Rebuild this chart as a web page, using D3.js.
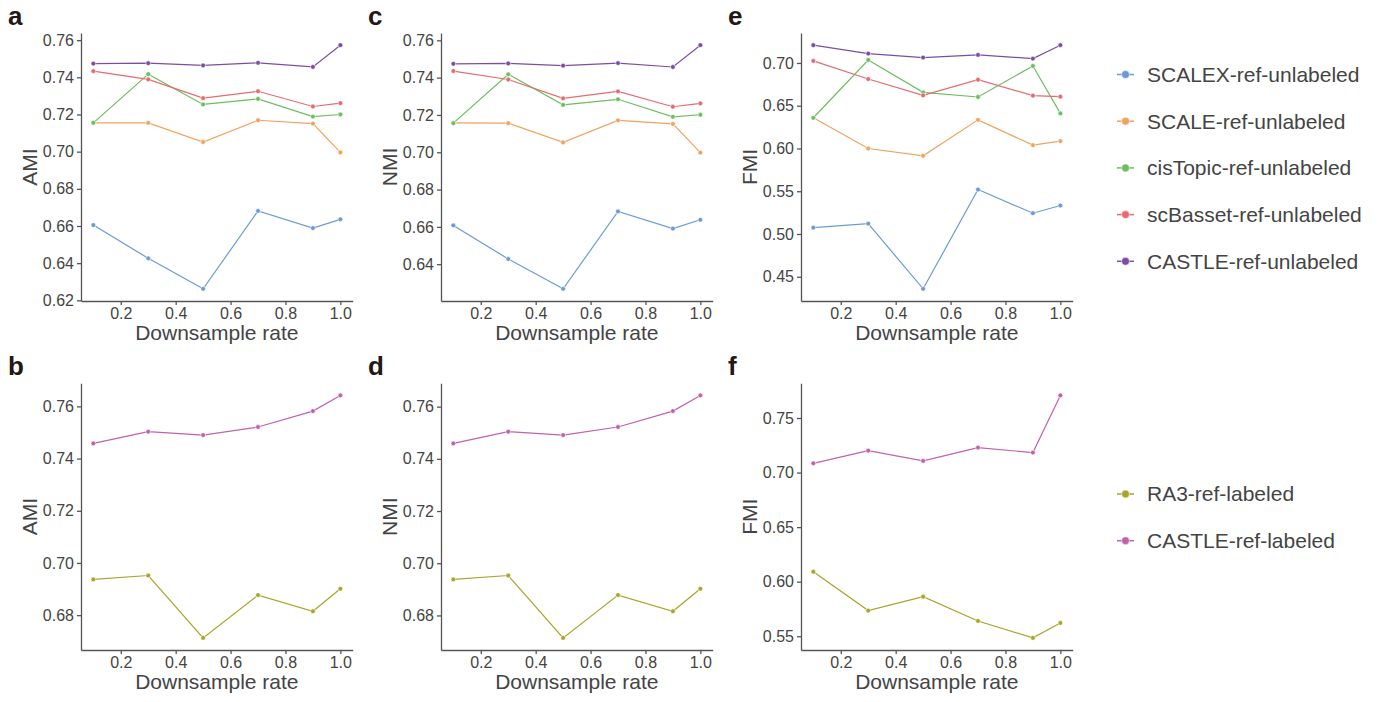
<!DOCTYPE html>
<html lang="en">
<head>
<meta charset="UTF-8">
<title>Downsample rate vs clustering metrics</title>
<style>
  body { margin: 0; background: #fff; font-family: "Liberation Sans", Arial, sans-serif; }
  .axis path, .axis line { stroke: #555; stroke-width: 1.3; }
  .axis text { fill: #444; font-size: 16px; font-family: "Liberation Sans", Arial, sans-serif; }
  .lab { fill: #444; font-size: 21px; }
  .letter { fill: #231815; font-size: 26px; font-weight: bold; }
  .leg { fill: #444; font-size: 21px; }
</style>
</head>
<body>
<script src="https://d3js.org/d3.v7.min.js"></script>
<script>
const rates = [0.1, 0.3, 0.5, 0.7, 0.9, 1.0];
const xTicks = [0.2, 0.4, 0.6, 0.8, 1.0];

const unlabeledNames = ["SCALEX-ref-unlabeled", "SCALE-ref-unlabeled", "cisTopic-ref-unlabeled", "scBasset-ref-unlabeled", "CASTLE-ref-unlabeled"];
const unlabeledColors = ["#6a9bd6", "#f0a35e", "#6cbe5f", "#e56b6f", "#7b4ea3"];
const labeledNames = ["RA3-ref-labeled", "CASTLE-ref-labeled"];
const labeledColors = ["#a7a52a", "#c062ac"];

// top row, one array per method (same order as unlabeledNames)
const amiUnlabeled = [
  [0.6605, 0.6426, 0.6262, 0.6681, 0.6589, 0.6636],
  [0.7155, 0.7155, 0.7052, 0.7169, 0.7151, 0.6996],
  [0.7155, 0.7417, 0.7254, 0.7284, 0.7189, 0.7200],
  [0.7433, 0.7389, 0.7288, 0.7325, 0.7243, 0.7261],
  [0.7474, 0.7476, 0.7464, 0.7478, 0.7456, 0.7573]
];
const nmiUnlabeled = [
  [0.6608, 0.6428, 0.6268, 0.6683, 0.6591, 0.6638],
  [0.7157, 0.7156, 0.7053, 0.7171, 0.7152, 0.6998],
  [0.7156, 0.7418, 0.7254, 0.7284, 0.7190, 0.7201],
  [0.7435, 0.7390, 0.7289, 0.7326, 0.7244, 0.7262],
  [0.7474, 0.7476, 0.7464, 0.7478, 0.7457, 0.7574]
];
const fmiUnlabeled = [
  [0.5074, 0.5121, 0.4359, 0.5520, 0.5243, 0.5333],
  [0.6359, 0.6000, 0.5914, 0.6335, 0.6039, 0.6086],
  [0.6359, 0.7035, 0.6657, 0.6602, 0.6965, 0.6410],
  [0.7024, 0.6812, 0.6621, 0.6804, 0.6618, 0.6606],
  [0.7208, 0.7110, 0.7063, 0.7094, 0.7051, 0.7208]
];
// bottom row (same order as labeledNames)
const amiLabeled = [
  [0.6937, 0.6952, 0.6713, 0.6877, 0.6815, 0.6901],
  [0.7458, 0.7503, 0.7490, 0.7521, 0.7582, 0.7642]
];
const nmiLabeled = [
  [0.6938, 0.6953, 0.6714, 0.6878, 0.6816, 0.6902],
  [0.7459, 0.7504, 0.7491, 0.7522, 0.7583, 0.7643]
];
const fmiLabeled = [
  [0.6091, 0.5735, 0.5863, 0.5640, 0.5485, 0.5622],
  [0.7085, 0.7201, 0.7107, 0.7229, 0.7183, 0.7707]
];

const ticksA = [0.62, 0.64, 0.66, 0.68, 0.70, 0.72, 0.74, 0.76];
const ticksE = [0.45, 0.50, 0.55, 0.60, 0.65, 0.70];
const ticksB = [0.68, 0.70, 0.72, 0.74, 0.76];
const ticksF = [0.55, 0.60, 0.65, 0.70, 0.75];

const W = 1381, H = 702;
const svg = d3.select("body").append("svg").attr("width", W).attr("height", H);

const colX = [81, 441, 801];
const panelW = 271.7;
const rows = [{ top: 33, bottom: 301 }, { top: 383.3, bottom: 650 }];

const panels = [
  { letter: "a", col: 0, row: 0, label: "AMI", data: amiUnlabeled, colors: unlabeledColors, ticks: ticksA },
  { letter: "c", col: 1, row: 0, label: "NMI", data: nmiUnlabeled, colors: unlabeledColors, ticks: ticksA },
  { letter: "e", col: 2, row: 0, label: "FMI", data: fmiUnlabeled, colors: unlabeledColors, ticks: ticksE },
  { letter: "b", col: 0, row: 1, label: "AMI", data: amiLabeled, colors: labeledColors, ticks: ticksB },
  { letter: "d", col: 1, row: 1, label: "NMI", data: nmiLabeled, colors: labeledColors, ticks: ticksB },
  { letter: "f", col: 2, row: 1, label: "FMI", data: fmiLabeled, colors: labeledColors, ticks: ticksF }
];

function padded(lo, hi) {
  const m = (hi - lo) * 0.05;
  return [lo - m, hi + m];
}

panels.forEach(p => {
  const x0 = colX[p.col], x1 = x0 + panelW;
  const r = rows[p.row];
  const all = p.data.flat();
  const yDom = padded(d3.min(all), d3.max(all));
  const x = d3.scaleLinear().domain(padded(d3.min(rates), d3.max(rates))).range([x0, x1]);
  const y = d3.scaleLinear().domain(yDom).range([r.bottom, r.top]);

  const g = svg.append("g");

  g.append("g").attr("class", "axis")
    .attr("transform", `translate(0,${r.bottom})`)
    .call(d3.axisBottom(x).tickValues(xTicks).tickFormat(d3.format(".1f")).tickSize(4).tickPadding(3).tickSizeOuter(0));

  g.append("g").attr("class", "axis")
    .attr("transform", `translate(${x0},0)`)
    .call(d3.axisLeft(y).tickValues(p.ticks.filter(t => t >= yDom[0] && t <= yDom[1]))
      .tickFormat(d3.format(".2f")).tickSize(4).tickPadding(3).tickSizeOuter(0));

  g.append("text").attr("class", "lab")
    .attr("x", (x0 + x1) / 2).attr("y", r.bottom + 39)
    .attr("text-anchor", "middle").text("Downsample rate");

  g.append("text").attr("class", "lab")
    .attr("transform", `translate(${x0 - 44},${(r.top + r.bottom) / 2}) rotate(-90)`)
    .attr("text-anchor", "middle").text(p.label);

  g.append("text").attr("class", "letter")
    .attr("x", x0 - 73).attr("y", r.top - 8).text(p.letter);

  const line = d3.line().x((d, i) => x(rates[i])).y(d => y(d));
  p.data.forEach((series, si) => {
    const c = p.colors[si];
    g.append("path").datum(series)
      .attr("fill", "none").attr("stroke", c).attr("stroke-width", 1.2)
      .attr("d", line);
    g.selectAll(null).data(series).enter().append("circle")
      .attr("cx", (d, i) => x(rates[i])).attr("cy", d => y(d))
      .attr("r", 2.4).attr("fill", c).attr("stroke", "#fff").attr("stroke-width", 0.6);
  });
});

function legend(names, colors, y0) {
  const step = 46.7;
  const lg = svg.append("g");
  names.forEach((n, i) => {
    const yy = y0 + i * step;
    lg.append("line").attr("x1", 1117).attr("x2", 1134).attr("y1", yy).attr("y2", yy)
      .attr("stroke", colors[i]).attr("stroke-width", 1.5);
    lg.append("circle").attr("cx", 1125.5).attr("cy", yy).attr("r", 4).attr("fill", colors[i])
      .attr("stroke", "#fff").attr("stroke-width", 0.6);
    lg.append("text").attr("class", "leg").attr("x", 1147).attr("y", yy).attr("dy", "0.35em").text(n);
  });
}
legend(unlabeledNames, unlabeledColors, 74.5);
legend(labeledNames, labeledColors, 494);
</script>
</body>
</html>
